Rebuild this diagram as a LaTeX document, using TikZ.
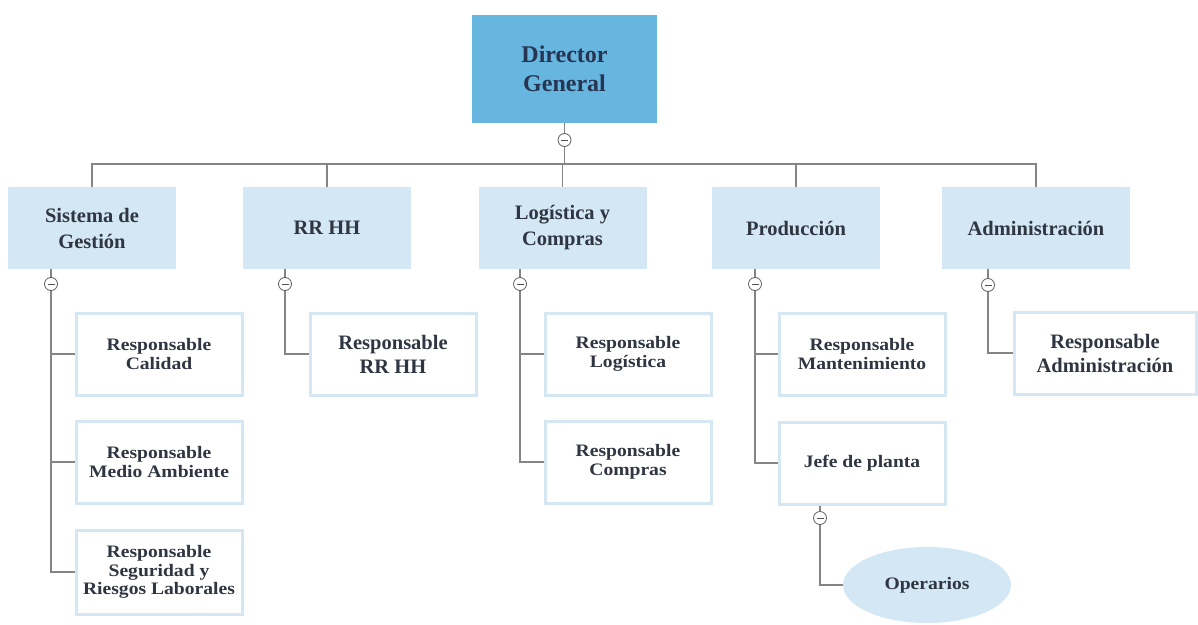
\documentclass[tikz,border=0pt]{standalone}
\usepackage{fontspec}
\setmainfont{Liberation Serif}
\newfontfamily\widefont[FakeStretch=1.12]{Liberation Serif}
\usetikzlibrary{shapes.geometric}
\definecolor{dirblue}{HTML}{66B6E0}
\definecolor{lblue}{HTML}{D3E7F5}
\definecolor{bord}{HTML}{D5E7F3}
\definecolor{linec}{HTML}{858585}
\definecolor{txt}{HTML}{2F3541}
\definecolor{dtxt}{HTML}{283552}
\tikzset{
  dirbox/.style={fill=dirblue, minimum width=185pt, minimum height=108pt, align=center,
    text=dtxt, font=\bfseries\fontsize{24}{29}\selectfont},
  topbox/.style={fill=lblue, minimum width=168pt, minimum height=82pt, align=center,
    text=txt, font=\bfseries\fontsize{20.5}{26}\selectfont},
  subbox/.style={draw=bord, line width=3pt, fill=white, minimum width=166pt, minimum height=82pt,
    align=center, text=txt, font=\widefont\bfseries\fontsize{17.5}{18.5}\selectfont},
  bigsub/.style={subbox, font=\bfseries\fontsize{20.5}{24}\selectfont},
  ovalbox/.style={ellipse, fill=lblue, minimum width=168pt, minimum height=76pt, inner sep=0pt,
    text=txt, font=\widefont\bfseries\fontsize{17.5}{20}\selectfont},
  tog/.style={circle, draw=linec!70!black, line width=0.8pt, fill=white, minimum size=13pt, inner sep=0pt,
    path picture={\draw[linec!60!black, line width=0.9pt] ([xshift=-3.5pt]path picture bounding box.center) -- ([xshift=3.5pt]path picture bounding box.center);}},
  conn/.style={draw=linec, line width=1.4pt}
}
\begin{document}
\begin{tikzpicture}[x=1pt, y=-1pt]
\useasboundingbox[fill=white] (0,0) rectangle (1198,624);
\coordinate (bus) at (0,164);
% director
\node[dirbox] (dir) at (564.5,69) {Director\\General};
\node[tog] (c0) at (564.5,140) {};
% level 1
\node[topbox] (sg) at (92,228) {Sistema de\\Gestión};
\node[topbox] (rr) at (327,228) {RR HH};
\node[topbox] (lc) at (562.5,228) {Logística y\\Compras};
\node[topbox] (pr) at (796,228) {Producción};
\node[topbox, minimum width=188pt] (ad) at (1036,228) {Administración};
% toggles
\node[tog] (c1) at (51,284) {};
\node[tog] (c2) at (285,284) {};
\node[tog] (c3) at (520,284) {};
\node[tog] (c4) at (755,284) {};
\node[tog] (c5) at (988,285) {};
% children
\node[subbox] (cal) at (159,354) {Responsable\\Calidad};
\node[subbox] (med) at (159,462) {Responsable\\Medio Ambiente};
\node[subbox, minimum height=84pt] (seg) at (159,572) {Responsable\\Seguridad y\\Riesgos Laborales};
\node[bigsub] (rrr) at (393,354) {Responsable\\RR HH};
\node[subbox] (log) at (628,354) {Responsable\\Logística};
\node[subbox] (com) at (628,462) {Responsable\\Compras};
\node[subbox] (man) at (862,354) {Responsable\\Mantenimiento};
\node[subbox] (jefe) at (862,463) {Jefe de planta};
\node[bigsub, minimum width=182pt] (radm) at (1105,353) {Responsable\\Administración};
\node[tog] (c6) at (820,518) {};
\node[ovalbox] (oper) at (927,585) {Operarios};
% connectors
\draw[conn] (dir.south) -- (c0.north);
\draw[conn] (c0.south) -- (c0.south |- bus);
\draw[conn] (sg.north) -- (sg.north |- bus) -- (ad.north |- bus) -- (ad.north);
\draw[conn] (rr.north) -- (rr.north |- bus);
\draw[conn] (lc.north) -- (lc.north |- bus);
\draw[conn] (pr.north) -- (pr.north |- bus);
\draw[conn] (sg.south -| c1) -- (c1.north);
\draw[conn] (rr.south -| c2) -- (c2.north);
\draw[conn] (lc.south -| c3) -- (c3.north);
\draw[conn] (pr.south -| c4) -- (c4.north);
\draw[conn] (ad.south -| c5) -- (c5.north);
\draw[conn] (c1.south) |- (cal.west);
\draw[conn] (c1.south) |- (med.west);
\draw[conn] (c1.south) |- (seg.west);
\draw[conn] (c2.south) |- (rrr.west);
\draw[conn] (c3.south) |- (log.west);
\draw[conn] (c3.south) |- (com.west);
\draw[conn] (c4.south) |- (man.west);
\draw[conn] (c4.south) |- (jefe.west);
\draw[conn] (c5.south) |- (radm.west);
\draw[conn] (jefe.south -| c6) -- (c6.north);
\draw[conn] (c6.south) |- (oper.west);
\end{tikzpicture}
\end{document}
